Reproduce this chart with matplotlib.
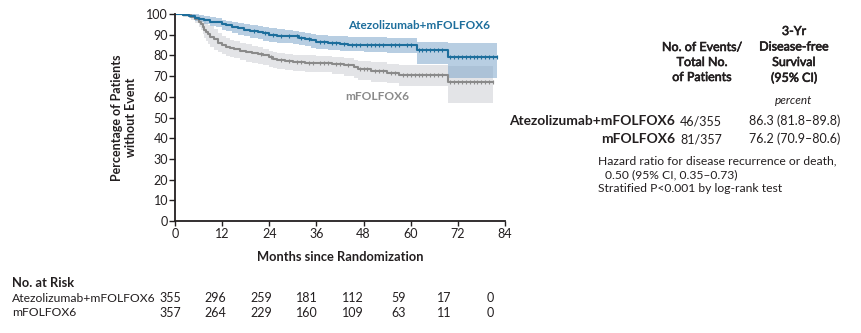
import numpy as np
import matplotlib
matplotlib.use("Agg")
import matplotlib.pyplot as plt
import matplotlib.patheffects as pe

plt.rcParams['font.family'] = ['Lato', 'DejaVu Sans']

# ---------------- data ----------------
months_ticks = [0, 12, 24, 36, 48, 60, 72, 84]
pct_ticks = list(range(0, 101, 10))

atezo_t = [0, 2, 3.5, 5, 6, 7.5, 9, 10.5, 12, 13, 14.5, 16, 17.5, 19, 21, 22.5, 24, 26,
           28, 30, 31.5, 33, 34.5, 36, 39, 42, 44, 48, 54, 58, 61.5, 69.5, 82]
atezo_s = [100, 99.5, 99, 98.3, 97.8, 97, 96.3, 96, 95.3, 94.5, 93.8, 93.3, 92.5, 91.8,
           91.3, 90.6, 89.8, 89.5, 89.5, 89.2, 88.6, 88, 87.2, 86.6, 86.2, 85.6, 85.2, 85,
           84.9, 84.8, 82.4, 79.3, 79.3]
atezo_hi = [100, 100, 100, 99.8, 99.6, 99.2, 98.6, 98.2, 97.3, 96.8, 96.2, 95.8, 95.2, 94.6,
            94.2, 93.5, 93, 92.6, 92.4, 92, 91.4, 90.9, 90.4, 90, 89.6, 89.2, 88.9, 88.7,
            88.4, 88.2, 86.3, 86.1, 86.1]
atezo_lo = [100, 99, 98, 96.8, 96, 95, 94, 93.6, 92.4, 91.6, 90.6, 90, 89.2, 88.4,
            87.8, 87, 86.6, 86.2, 86, 85.7, 85, 84.4, 83.6, 83.2, 82.8, 82.3, 81.9, 81.6,
            81.4, 81.2, 75.8, 69, 69]
atezo_cens = [20, 23, 25, 27, 29, 31, 32, 34, 37, 38, 40, 41, 43, 45, 46, 47, 49, 50, 51,
              52, 53, 55, 56, 57, 59, 60, 62, 63, 64, 65, 66, 67, 68, 70, 71, 72, 73, 74,
              75, 76, 77, 78, 79, 80, 81, 82]

fol_t = [0, 2, 4, 5, 6, 6.5, 7, 7.5, 8, 8.5, 9, 10, 11, 12, 13, 14, 15, 16.5, 18, 19.5, 21,
         22.5, 24, 25, 26, 28, 30, 33, 36, 40, 43, 45.5, 46.5, 50, 54, 57, 69.5, 81]
fol_s = [100, 99.3, 98.5, 97.6, 96.3, 95.2, 93.8, 92.5, 91.2, 90.2, 89, 87.8, 86.2, 85,
         84, 83.4, 82.9, 82.3, 81.8, 81.2, 80.7, 80, 79, 78.4, 77.8, 77.3, 77, 76.4, 76.2,
         76, 75.4, 74.6, 73.3, 72.6, 71.7, 70.5, 67, 67]
fol_hi = [100, 100, 99.8, 99.4, 98.8, 98.2, 97.4, 96.6, 95.6, 94.8, 94, 92.8, 90.8, 89.2,
          88.2, 87.4, 86.8, 86, 85.3, 84.6, 84, 83.2, 82.3, 81.7, 81.2, 80.8, 80.4, 80,
          79.7, 79.3, 78.6, 78, 77.2, 76.6, 76, 75.4, 74.9, 74.9]
fol_lo = [100, 98.5, 97, 95.6, 93.6, 92.2, 90.2, 88.4, 86.8, 85.6, 84, 82.6, 81.6, 80.8,
          79.8, 79, 78.6, 77.8, 77, 76.4, 75.9, 75.2, 74.4, 73.8, 73.2, 72.8, 72.4, 72,
          71.8, 71, 70, 69, 68, 67.3, 66.6, 65, 57.2, 57.2]
fol_cens = [22, 24.5, 27, 29, 31, 32, 34, 35, 37, 38, 39, 41, 42, 44, 47, 48, 49, 51, 52,
            53, 55, 56, 58, 59, 60, 61, 62, 63, 64, 65, 66, 67, 68, 70, 71, 72, 73, 74, 75,
            76, 77, 78, 79, 80, 81]

arm_names = ["Atezolizumab+mFOLFOX6", "mFOLFOX6"]
events = ["46/355", "81/357"]
dfs3 = ["86.3 (81.8\u201389.8)", "76.2 (70.9\u201380.6)"]
risk_months = [0, 12, 24, 36, 48, 60, 72, 84]
risk_atezo = [355, 296, 259, 181, 112, 59, 17, 0]
risk_fol = [357, 264, 229, 160, 109, 63, 11, 0]

BLUE = "#1d6e9c"
GRAY = "#8a8a8a"
TXT = "#231f20"
SEMI = [pe.withStroke(linewidth=0.45, foreground=TXT)]

W, H = 862, 333
fig = plt.figure(figsize=(W / 100, H / 100), dpi=100)
L, R, T, B = 175, 505, 14, 221
ax = fig.add_axes([L / W, 1 - B / H, (R - L) / W, (B - T) / H])

# bands
ax.fill_between(fol_t, fol_lo, fol_hi, step='post', color="#c9cbd0", alpha=0.5, lw=0)
ax.fill_between(atezo_t, atezo_lo, atezo_hi, step='post', color="#7fa6cb", alpha=0.55, lw=0)
# curves
ax.step(fol_t, fol_s, where='post', color=GRAY, lw=1.5)
ax.step(atezo_t, atezo_s, where='post', color=BLUE, lw=1.5)


def surv_at(tt, ss, x):
    idx = np.searchsorted(tt, x, side='right') - 1
    return np.asarray(ss)[idx]


ax.plot(fol_cens, surv_at(fol_t, fol_s, fol_cens), ls='none', marker='|', ms=3.5,
        mew=0.8, color=GRAY)
ax.plot(atezo_cens, surv_at(atezo_t, atezo_s, atezo_cens), ls='none', marker='|', ms=3.5,
        mew=0.8, color=BLUE)

ax.set_xlim(0, 84)
ax.set_ylim(0, 100)
ax.set_xticks(months_ticks)
ax.set_yticks(pct_ticks)
for s in ['top', 'right']:
    ax.spines[s].set_visible(False)
for s in ['left', 'bottom']:
    ax.spines[s].set_linewidth(1.3)
    ax.spines[s].set_color(TXT)
ax.tick_params(axis='y', direction='out', length=4, width=1, labelsize=9, pad=1,
               colors=TXT)
ax.tick_params(axis='x', direction='out', length=3.5, width=1, labelsize=9, pad=1.5,
               colors=TXT)
ax.set_xlabel("Months since Randomization", fontsize=9.3, fontweight='bold', color=TXT,
              labelpad=8)
ax.set_ylabel("Percentage of Patients\nwithout Event", fontsize=9, fontweight='bold',
              color=TXT, labelpad=7, linespacing=1.2)

ax.text(44, 94.5, arm_names[0], color=BLUE, fontsize=8.5, fontweight='bold', va='center')
ax.text(43.3, 60, arm_names[1], color=GRAY, fontsize=8.6, fontweight='bold', va='center')


def ft(x, y, s, **kw):
    kw.setdefault('fontsize', 9)
    kw.setdefault('color', TXT)
    fig.text(x / W, 1 - y / H, s, **kw)


# right table
for i, line in enumerate(["No. of Events/", "Total No.", "of Patients"]):
    ft(702, 47 + 15 * i, line, ha='center', va='center', path_effects=SEMI)
for i, line in enumerate(["3-Yr", "Disease-free", "Survival", "(95% CI)"]):
    ft(794, 31 + 15.5 * i, line, ha='center', va='center', path_effects=SEMI)
ft(794, 100, "percent", ha='center', va='center', style='italic', fontsize=8.5)
for i in range(2):
    y = 121 + 18 * i
    ft(675, y, arm_names[i], ha='right', va='center', fontweight='bold', fontsize=9.9)
    ft(701, y, events[i], ha='center', va='center')
    ft(749, y, dfs3[i], ha='left', va='center')
ft(598, 161, "Hazard ratio for disease recurrence or death,", ha='left', va='center',
   fontsize=8.7)
ft(605, 175, "0.50 (95% CI, 0.35\u20130.73)", ha='left', va='center', fontsize=8.7)
ft(598, 189, "Stratified P<0.001 by log-rank test", ha='left', va='center', fontsize=8.7)

# number at risk
ft(12, 283, "No. at Risk", ha='left', va='center', fontweight='bold', fontsize=9.3)
ft(12, 298, arm_names[0], ha='left', va='center', fontsize=8.7)
ft(12, 313, arm_names[1], ha='left', va='center', fontsize=8.7)
for j, m in enumerate(risk_months):
    xc = 170 + m / 12 * 45.7
    ft(xc, 298, str(risk_atezo[j]), ha='center', va='center')
    ft(xc, 313, str(risk_fol[j]), ha='center', va='center')

fig.savefig("out.png", dpi=100)
